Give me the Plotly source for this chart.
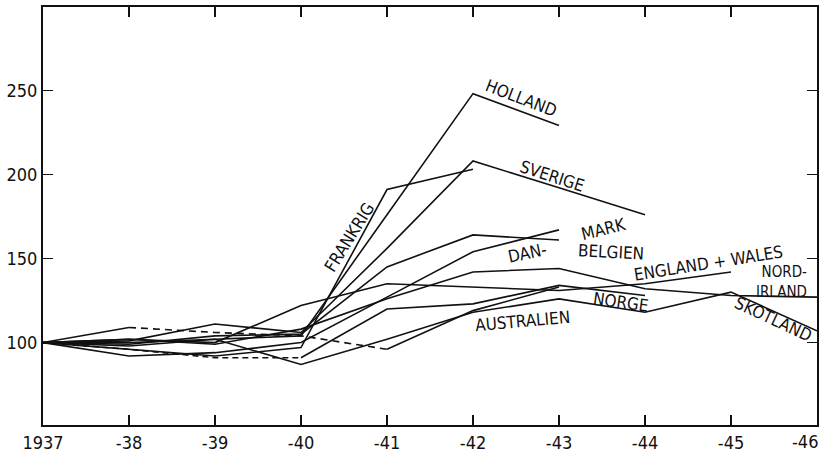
import plotly.graph_objects as go

YEARS = [1937, 1938, 1939, 1940, 1941, 1942, 1943, 1944, 1945, 1946]
X_TICK_LABELS = ["1937", "-38", "-39", "-40", "-41", "-42", "-43", "-44", "-45"]
Y_TICKS = [100, 150, 200, 250]

HOLLAND = [100, 98, 102, 104, 176, 248, 229, None, None, None]
SVERIGE = [100, 101, 111, 106, 156, 208, 192, 176, None, None]
FRANKRIG = [100, 96, 92, 97, 191, 203, None, None, None, None]
DANMARK = [100, 92, 94, 100, 127, 154, 167, None, None, None]
BELGIEN = [100, 99, 104, 105, 145, 164, 161, None, None, None]
NORDIRLAND = [100, 102, 99, 108, 126, 142, 144, 132, 128, 127]
ENGLAND_WALES = [100, 102, 100, 122, 135, 133, 131, 135, 142, None]
NORGE = [100, 96, 91, 91, 120, 123, 134, 128, None, None]
SKOTLAND = [100, 100, 102, 87, 102, 118, 126, 118, 130, 107]
AUSTRALIEN = [100, 109, 106, 104, 96, 119, 133, None, None, None]

# (series, list of (start_idx, end_idx, dash))
SERIES = [
    (HOLLAND, [(0, 9, "solid")]),
    (SVERIGE, [(0, 9, "solid")]),
    (FRANKRIG, [(0, 9, "solid")]),
    (DANMARK, [(0, 9, "solid")]),
    (BELGIEN, [(0, 9, "solid")]),
    (NORDIRLAND, [(0, 9, "solid")]),
    (ENGLAND_WALES, [(0, 9, "solid")]),
    (NORGE, [(0, 3, "6px,4px"), (3, 9, "solid")]),
    (SKOTLAND, [(0, 9, "solid")]),
    (AUSTRALIEN, [(0, 1, "solid"), (1, 4, "7px,5px"), (4, 9, "solid")]),
]

FONT = "DejaVu Sans Condensed, DejaVu Sans, sans-serif"
INK = "#111111"

fig = go.Figure()
for vals, segs in SERIES:
    for a, b, dash in segs:
        fig.add_trace(go.Scatter(
            x=YEARS[a:b + 1], y=vals[a:b + 1], mode="lines",
            line=dict(color=INK, width=1.6, dash=dash),
            showlegend=False, hoverinfo="skip", connectgaps=False,
        ))

LABELS = [
    ("HOLLAND", 1942.56, 245.5, 21, "center", 17),
    ("SVERIGE", 1942.92, 199.0, 18, "center", 17),
    ("FRANKRIG", 1940.56, 163.0, -58, "center", 17),
    ("DAN-", 1942.63, 153.0, -12, "center", 17),
    ("MARK", 1943.52, 167.5, -14, "center", 17),
    ("BELGIEN", 1943.61, 154.0, 3, "center", 17),
    ("ENGLAND + WALES", 1944.74, 147.5, -9, "center", 17),
    ("NORD-<br>IRLAND", 1945.91, 136.0, 0, "right", 15),
    ("NORGE", 1943.72, 124.0, 8, "center", 17),
    ("SKOTLAND", 1945.49, 114.0, 25, "center", 17),
    ("AUSTRALIEN", 1942.58, 113.0, -5, "center", 17),
]
for text, x, y, ang, anchor, size in LABELS:
    fig.add_annotation(x=x, y=y, text=text, showarrow=False, textangle=ang,
                       xanchor=anchor, align=anchor if anchor != "center" else "center",
                       font=dict(family=FONT, size=size, color=INK))

fig.add_annotation(x=1946, y=0, xref="x", yref="paper", text="-46", showarrow=False,
                   xanchor="right", yanchor="top", yshift=-4, xshift=3,
                   font=dict(family=FONT, size=18, color=INK))

fig.update_xaxes(range=[1937, 1946], tickvals=YEARS[:9], ticktext=X_TICK_LABELS,
                 showline=True, linewidth=2, linecolor=INK, mirror="ticks",
                 ticks="inside", ticklen=10, tickwidth=1.5, tickcolor=INK,
                 showgrid=False, zeroline=False,
                 tickfont=dict(family=FONT, size=18, color=INK))
fig.update_yaxes(range=[51, 299.5], tickvals=Y_TICKS,
                 showline=True, linewidth=2, linecolor=INK, mirror="ticks",
                 ticks="inside", ticklen=10, tickwidth=1.5, tickcolor=INK,
                 showgrid=False, zeroline=False,
                 tickfont=dict(family=FONT, size=18, color=INK))
fig.update_layout(width=824, height=458, margin=dict(l=43, r=5, t=5, b=31),
                  plot_bgcolor="white", paper_bgcolor="white")
fig.write_html("out.html", config={"displayModeBar": False, "staticPlot": True},
               post_script="document.body.style.margin='0';document.body.style.overflow='hidden';")
